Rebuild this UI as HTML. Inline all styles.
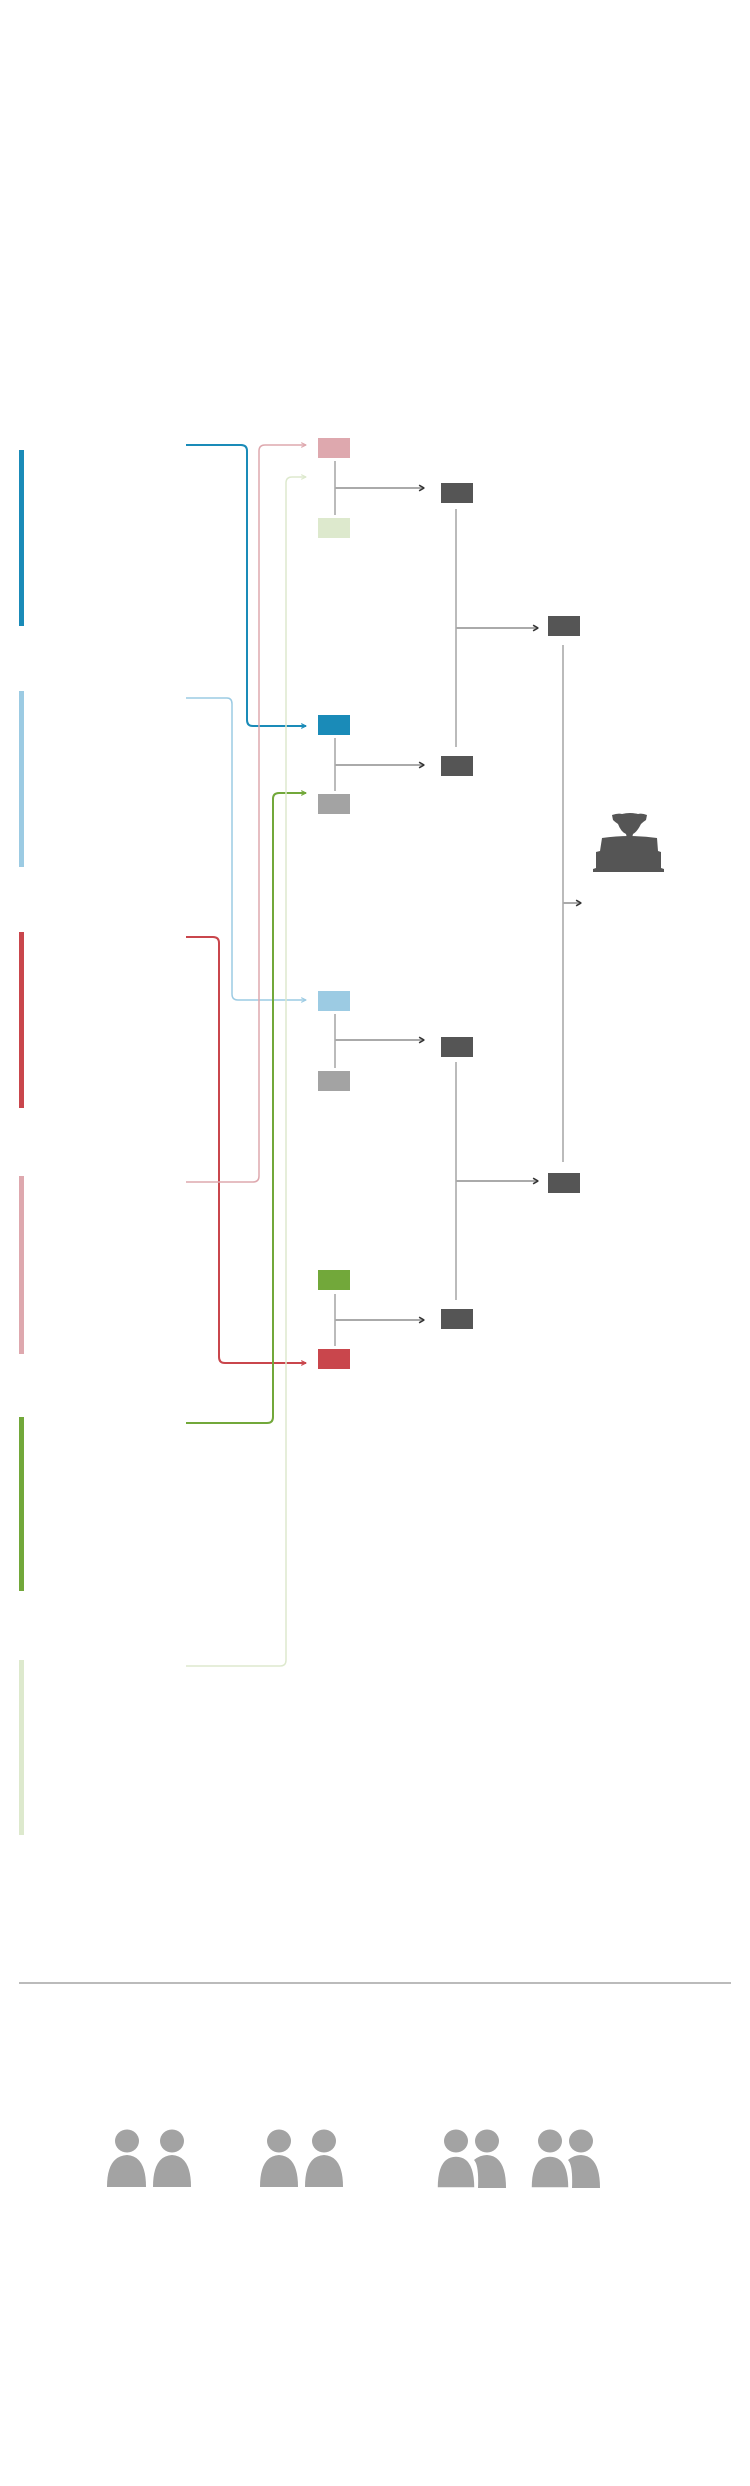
<!DOCTYPE html>
<html><head><meta charset="utf-8"><style>html,body{margin:0;padding:0;background:#fff}svg{display:block}</style></head>
<body>
<svg width="750" height="2486" viewBox="0 0 750 2486" xmlns="http://www.w3.org/2000/svg">
<defs>
<marker id="a" viewBox="0 0 10 10" refX="9" refY="5" markerWidth="6" markerHeight="6" orient="auto" markerUnits="userSpaceOnUse"><path d="M1 1L9 5L1 9" fill="none" stroke="context-stroke" stroke-width="2"/></marker>
<marker id="d" viewBox="0 0 10 10" refX="9" refY="5" markerWidth="7" markerHeight="7" orient="auto" markerUnits="userSpaceOnUse"><path d="M2 1L9 5L2 9" fill="none" stroke="#333" stroke-width="2.2"/></marker>
</defs>
<g fill="none" stroke-width="2">
<rect x="19" y="450" width="5" height="176" fill="#1a8bb8" stroke="none"/>
<rect x="19" y="691" width="5" height="176" fill="#9ccbe3" stroke="none"/>
<rect x="19" y="932" width="5" height="176" fill="#c9464c" stroke="none"/>
<rect x="19" y="1176" width="5" height="178" fill="#dea8ae" stroke="none"/>
<rect x="19" y="1417" width="5" height="174" fill="#72a83a" stroke="none"/>
<rect x="19" y="1660" width="5" height="175" fill="#dde9cd" stroke="none"/>
<path d="M186 445H241Q247 445 247 451V720Q247 726 253 726H306" stroke="#1a8bb8" marker-end="url(#a)"/>
<path d="M186 698H227Q232 698 232 704V994Q232 1000 238 1000H306" stroke="#9ccbe3" stroke-width="1.5" marker-end="url(#a)"/>
<path d="M186 937H213Q219 937 219 943V1357Q219 1363 225 1363H306" stroke="#c9464c" marker-end="url(#a)"/>
<path d="M186 1182H253Q259 1182 259 1176V451Q259 445 265 445H306" stroke="#dea8ae" stroke-width="1.5" marker-end="url(#a)"/>
<path d="M186 1423H267Q273 1423 273 1417V799Q273 793 279 793H306" stroke="#72a83a" marker-end="url(#a)"/>
<path d="M186 1666H280Q286 1666 286 1660V483Q286 477 292 477H306" stroke="#dde9cd" stroke-width="1.5" marker-end="url(#a)"/>
<g stroke="#777" stroke-width="1">
<path d="M335 461V515M335 738V791M335 1014V1068M335 1294V1346M456 509V747M456 1062V1300M563 645V1162"/>
</g>
<g stroke="#aaa" stroke-width="2">
<path d="M335 488H424" marker-end="url(#d)"/>
<path d="M335 765H424" marker-end="url(#d)"/>
<path d="M335 1040H424" marker-end="url(#d)"/>
<path d="M335 1320H424" marker-end="url(#d)"/>
<path d="M456 628H538" marker-end="url(#d)"/>
<path d="M456 1181H538" marker-end="url(#d)"/>
<path d="M563 903H581" marker-end="url(#d)"/>
</g>
</g>
<rect x="318" y="438" width="32" height="20" fill="#dea8ae"/>
<rect x="318" y="518" width="32" height="20" fill="#dde9cd"/>
<rect x="318" y="715" width="32" height="20" fill="#1a8bb8"/>
<rect x="318" y="794" width="32" height="20" fill="#a3a3a3"/>
<rect x="318" y="991" width="32" height="20" fill="#9ccbe3"/>
<rect x="318" y="1071" width="32" height="20" fill="#a3a3a3"/>
<rect x="318" y="1270" width="32" height="20" fill="#72a83a"/>
<rect x="318" y="1349" width="32" height="20" fill="#c9464c"/>
<g fill="#555">
<rect x="441" y="483" width="32" height="20"/>
<rect x="441" y="756" width="32" height="20"/>
<rect x="441" y="1037" width="32" height="20"/>
<rect x="441" y="1309" width="32" height="20"/>
<rect x="548" y="616" width="32" height="20"/>
<rect x="548" y="1173" width="32" height="20"/>
<path d="M612 815Q618 813 622 814Q630 812 638 814Q642 813 647 815L646 820Q643 822 641 824Q637 832 633 834L632 838H627L626 834Q621 832 618 824Q615 822 613 820Z"/>
<path d="M602 838Q630 834 657 838L658 851L661 852V868L664 869V872H593V869L596 868V852L600 851Z"/>
</g>
<rect x="19" y="1982" width="712" height="2" fill="#bbb"/>
<g fill="#a3a3a3">
<ellipse cx="127" cy="2141" rx="12" ry="11.5"/><path d="M107 2187Q107 2156 127 2155Q146 2156 146 2187Z"/>
<ellipse cx="172" cy="2141" rx="12" ry="11.5"/><path d="M153 2187Q153 2156 172 2155Q191 2156 191 2187Z"/>
<ellipse cx="279" cy="2141" rx="12" ry="11.5"/><path d="M260 2187Q260 2156 279 2155Q298 2156 298 2187Z"/>
<ellipse cx="324" cy="2141" rx="12" ry="11.5"/><path d="M305 2187Q305 2156 324 2155Q343 2156 343 2187Z"/>
<ellipse cx="487" cy="2141" rx="12" ry="11.5"/><path d="M478 2188Q479 2165 474 2160Q480 2155 487 2155Q506 2156 506 2188Z"/>
<ellipse cx="456" cy="2141" rx="12" ry="11.5"/><path d="M437 2188Q437 2156 456 2156Q475 2156 475 2188Z" stroke="#fff" stroke-width="1.5"/>
<ellipse cx="581" cy="2141" rx="12" ry="11.5"/><path d="M572 2188Q573 2165 568 2160Q574 2155 581 2155Q600 2156 600 2188Z"/>
<ellipse cx="550" cy="2141" rx="12" ry="11.5"/><path d="M531 2188Q531 2156 550 2156Q569 2156 569 2188Z" stroke="#fff" stroke-width="1.5"/>
</g>
</svg>
</body></html>
